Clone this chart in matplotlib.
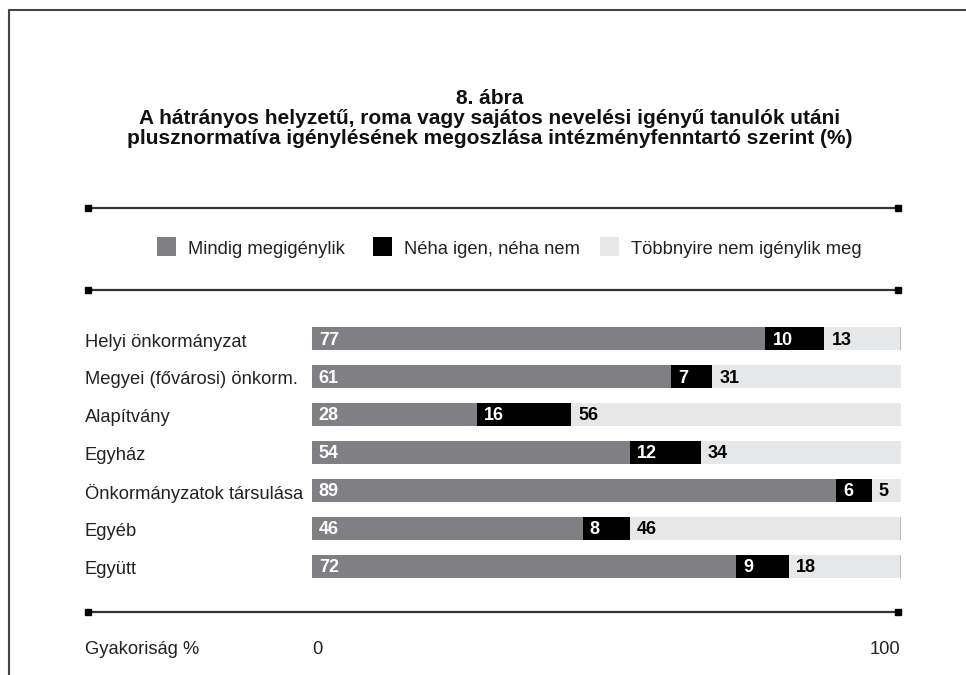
import matplotlib
matplotlib.use("Agg")
import matplotlib.pyplot as plt
from matplotlib.lines import Line2D
from matplotlib.patches import Rectangle

plt.rcParams['font.family'] = ['Liberation Sans', 'DejaVu Sans']

# adatok
kategoriak = ["Helyi önkormányzat", "Megyei (fővárosi) önkorm.", "Alapítvány",
              "Egyház", "Önkormányzatok társulása", "Egyéb", "Együtt"]
mindig = [77, 61, 28, 54, 89, 46, 72]
neha = [10, 7, 16, 12, 6, 8, 9]
tobbnyire = [13, 31, 56, 34, 5, 46, 18]
lezaras = [True, False, False, False, False, True, True]

sorozatok = ["Mindig megigénylik", "Néha igen, néha nem", "Többnyire nem igénylik meg"]
szinek = ["#808084", "#000000", "#e6e7e9"]

cim_sorok = ["8. ábra",
             "A hátrányos helyzetű, roma vagy sajátos nevelési igényű tanulók utáni",
             "plusznormatíva igénylésének megoszlása intézményfenntartó szerint (%)"]

W, H = 966, 675
fig = plt.figure(figsize=(W / 100, H / 100), dpi=100)


def fx(px):
    return px / W


def fy(py):
    return 1 - py / H


# keret
fig.add_artist(Line2D([fx(9), fx(9), fx(966)], [fy(675), fy(10), fy(10)],
                      color="#444444", lw=1.5))

# cim
for sor, py in zip(cim_sorok, [98, 118, 138]):
    fig.text(fx(490), fy(py), sor, ha="center", va="center", fontsize=15,
             fontweight="bold", color="#111111")

# vizszintes vonalak
for py in [208, 290, 612]:
    fig.add_artist(Line2D([fx(88), fx(898)], [fy(py), fy(py)], color="#333333",
                          lw=1.6, marker="s", markersize=4.5,
                          markerfacecolor="black", markeredgecolor="black"))

# jelmagyarazat
leg_x = [157, 373, 600]
for x0, nev, szin in zip(leg_x, sorozatok, szinek):
    fig.add_artist(Rectangle((fx(x0), fy(256)), 19 / W, 19 / H, facecolor=szin,
                             edgecolor="none", transform=fig.transFigure))
    fig.text(fx(x0 + 31), fy(250), nev, ha="left", va="center", fontsize=13.2,
             color="#222222")

# oszlopok
sor_tav = 37.9
y0 = 339
ax = fig.add_axes([fx(311.7), fy(y0 + 6.5 * sor_tav), (901 - 311.7) / W, 7 * sor_tav / H])

y = list(range(len(kategoriak)))
bal2 = mindig
bal3 = [a + b for a, b in zip(mindig, neha)]
maradek = [100 - b for b in bal3]
magas = 23 / sor_tav

ax.barh(y, mindig, height=magas, color=szinek[0])
ax.barh(y, neha, left=bal2, height=magas, color=szinek[1])
ax.barh(y, maradek, left=bal3, height=magas, color=szinek[2])

pad = 1.2
dy = 0.03
for i in y:
    ax.text(pad, i + dy, str(mindig[i]), color="white", fontweight="bold",
            fontsize=13, va="center", ha="left")
    ax.text(bal2[i] + pad, i + dy, str(neha[i]), color="white", fontweight="bold",
            fontsize=13, va="center", ha="left")
    ax.text(bal3[i] + pad, i + dy, str(tobbnyire[i]), color="black", fontweight="bold",
            fontsize=13, va="center", ha="left")
    if lezaras[i]:
        ax.vlines(100, i - magas / 2, i + magas / 2, color="black", lw=1)
    ax.text(-(311.7 - 85) / (901 - 311.7), i + 0.08, kategoriak[i],
            transform=ax.get_yaxis_transform(), ha="left", va="center",
            fontsize=13.2, color="#222222")

ax.set_xlim(0, 100)
ax.set_ylim(6.5, -0.5)
ax.axis("off")

# also tengely
fig.text(fx(85), fy(649), "Gyakoriság %", ha="left", va="center", fontsize=13.2,
         color="#222222")
fig.text(fx(317), fy(649), "0", ha="center", va="center", fontsize=13.2,
         color="#222222")
fig.text(fx(900), fy(649), "100", ha="right", va="center", fontsize=13.2,
         color="#222222")

fig.savefig("out.png", dpi=100)
